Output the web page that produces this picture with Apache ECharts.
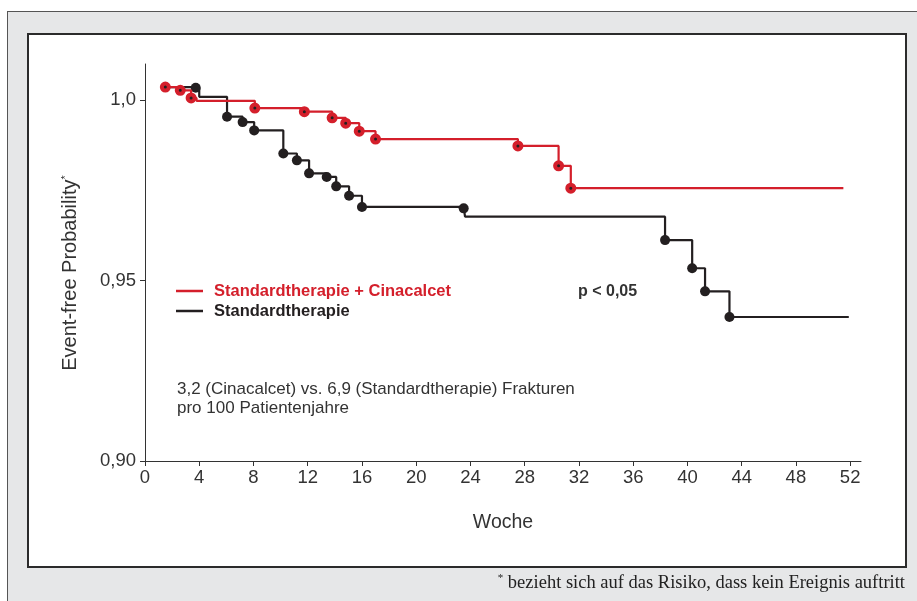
<!DOCTYPE html>
<html>
<head>
<meta charset="utf-8">
<script src="https://cdn.jsdelivr.net/npm/echarts@6/dist/echarts.min.js"></script>
<style>
  body { margin: 0; background: #fff; }
  #outer { position: absolute; left: 7px; top: 11px; width: 920px; height: 600px;
           background: #e6e7e8; border-left: 1.5px solid #555; border-top: 1.5px solid #555; }
  #inner { position: absolute; left: 27px; top: 33px; width: 876px; height: 531px;
           background: #fff; border: 2px solid #2b2b2b; }
  #chart { position: absolute; left: 0; top: 0; width: 917px; height: 601px; }
</style>
</head>
<body>
<div id="outer"></div>
<div id="inner"></div>
<div id="chart"></div>
<script>
// Kaplan-Meier Daten (Woche, Event-free Probability)
var weeksCina = [1.5, 2.6, 3.4, 3.8, 8.1, 11.75, 13.8, 14.8, 15.8, 17.0, 27.5, 30.5, 31.4, 51.5];
var survCina  = [1.0036, 1.0027, 1.0006, 0.9998, 0.9978, 0.9968, 0.9951, 0.9936, 0.9914, 0.9892, 0.9873, 0.9818, 0.9756, 0.9756];
var markCina  = [1, 1, 1, 0, 1, 1, 1, 1, 1, 1, 1, 1, 1, 0];

var weeksStd = [1.5, 3.74, 4.0, 6.05, 7.2, 8.05, 10.2, 11.2, 12.1, 13.4, 14.1, 15.05, 16.0, 23.5, 23.6, 38.35, 40.35, 41.3, 43.1, 51.9];
var survStd  = [1.0036, 1.0034, 1.0009, 0.9954, 0.9939, 0.9916, 0.9852, 0.9833, 0.9797, 0.9787, 0.9761, 0.9735, 0.9704, 0.9700, 0.9677, 0.9612, 0.9534, 0.9470, 0.9399, 0.9399];
var markStd  = [0, 1, 0, 1, 1, 1, 1, 1, 1, 1, 1, 1, 1, 1, 0, 1, 1, 1, 1, 0];

var xTicks = [0, 4, 8, 12, 16, 20, 24, 28, 32, 36, 40, 44, 48, 52];
var yTicks = [0.90, 0.95, 1.00];
var yTickLabels = ['0,90', '0,95', '1,0'];

var RED = '#d41f2b';
var BLACK = '#231f20';
var FONT = 'Liberation Sans, Arial, sans-serif';

function toData(xs, ys, marks) {
    return xs.map(function (x, i) {
        var d = { value: [x, ys[i]] };
        if (!marks[i]) d.symbol = 'none';
        return d;
    });
}

var myChart = echarts.init(document.getElementById('chart'), null, { renderer: 'canvas' });
var option = {
    animation: false,
    backgroundColor: 'transparent',
    grid: { left: 145, right: 56, top: 64, bottom: 140 },
    legend: {
        orient: 'vertical',
        left: 176,
        top: 282,
        padding: 0,
        icon: 'rect',
        itemWidth: 27,
        itemHeight: 2.5,
        itemGap: 2,
        selectedMode: false,
        textStyle: { fontFamily: FONT, fontSize: 16.5, fontWeight: 'bold', lineHeight: 18, padding: [0, 0, 0, 6] },
        data: [
            { name: 'Standardtherapie + Cinacalcet', itemStyle: { color: RED, borderWidth: 0 }, textStyle: { color: RED } },
            { name: 'Standardtherapie', itemStyle: { color: BLACK, borderWidth: 0 }, textStyle: { color: BLACK } }
        ]
    },
    xAxis: {
        type: 'value',
        min: 0,
        max: 52.8,
        name: 'Woche',
        nameLocation: 'middle',
        nameGap: 52,
        nameTextStyle: { fontFamily: FONT, fontSize: 19.5, color: '#333' },
        splitLine: { show: false },
        axisLine: { lineStyle: { color: '#333', width: 1 } },
        axisTick: { customValues: xTicks, length: 5, lineStyle: { color: '#333' } },
        axisLabel: { customValues: xTicks, margin: 7, fontFamily: FONT, fontSize: 18.5, color: '#333' }
    },
    yAxis: {
        type: 'value',
        min: 0.9,
        max: 1.01,
        splitLine: { show: false },
        axisLine: { show: true, lineStyle: { color: '#333', width: 1 } },
        axisTick: { show: true, customValues: yTicks, length: 5, lineStyle: { color: '#333' } },
        axisLabel: {
            customValues: yTicks,
            margin: 9,
            fontFamily: FONT,
            fontSize: 18.5,
            color: '#333',
            formatter: function (v) {
                var i = yTicks.findIndex(function (t) { return Math.abs(t - v) < 1e-6; });
                return i >= 0 ? yTickLabels[i] : '';
            }
        }
    },
    graphic: [
        {
            type: 'text',
            x: 70, y: 273,
            rotation: Math.PI / 2,
            style: {
                text: '{a|Event-free Probability}{b|*}',
                align: 'center',
                verticalAlign: 'middle',
                rich: {
                    a: { fontFamily: FONT, fontSize: 20, fill: '#333' },
                    b: { fontFamily: FONT, fontSize: 11, fill: '#333', verticalAlign: 'top', padding: [0, 0, 8, 0] }
                }
            }
        },
        {
            type: 'text', x: 578, y: 292,
            style: { text: 'p < 0,05', fontFamily: FONT, fontSize: 16, fontWeight: 'bold', fill: '#333', verticalAlign: 'middle' }
        },
        {
            type: 'text', x: 177, y: 380,
            style: {
                text: '3,2 (Cinacalcet) vs. 6,9 (Standardtherapie) Frakturen\npro 100 Patientenjahre',
                fontFamily: FONT, fontSize: 17, lineHeight: 19, fill: '#333'
            }
        },
        {
            type: 'text', x: 905, y: 583,
            style: {
                text: '{s|*} bezieht sich auf das Risiko, dass kein Ereignis auftritt',
                align: 'right', verticalAlign: 'middle',
                fontFamily: 'Liberation Serif, serif', fontSize: 18.5, fill: '#222',
                rich: { s: { fontFamily: 'Liberation Serif, serif', fontSize: 11, fill: '#222', padding: [0, 0, 9, 0] } }
            }
        }
    ],
    series: [
        {
            name: 'Standardtherapie',
            type: 'line',
            step: 'end',
            data: toData(weeksStd, survStd, markStd),
            symbol: 'circle',
            symbolSize: 10,
            z: 2,
            lineStyle: { color: BLACK, width: 2.2 },
            itemStyle: { color: BLACK },
            emphasis: { disabled: true }
        },
        {
            name: 'Standardtherapie + Cinacalcet',
            type: 'line',
            step: 'end',
            data: toData(weeksCina, survCina, markCina),
            symbol: 'circle',
            symbolSize: 7,
            z: 3,
            lineStyle: { color: RED, width: 2.2 },
            itemStyle: { color: BLACK, borderColor: RED, borderWidth: 4 },
            emphasis: { disabled: true }
        }
    ]
};
myChart.setOption(option);
</script>
</body>
</html>
